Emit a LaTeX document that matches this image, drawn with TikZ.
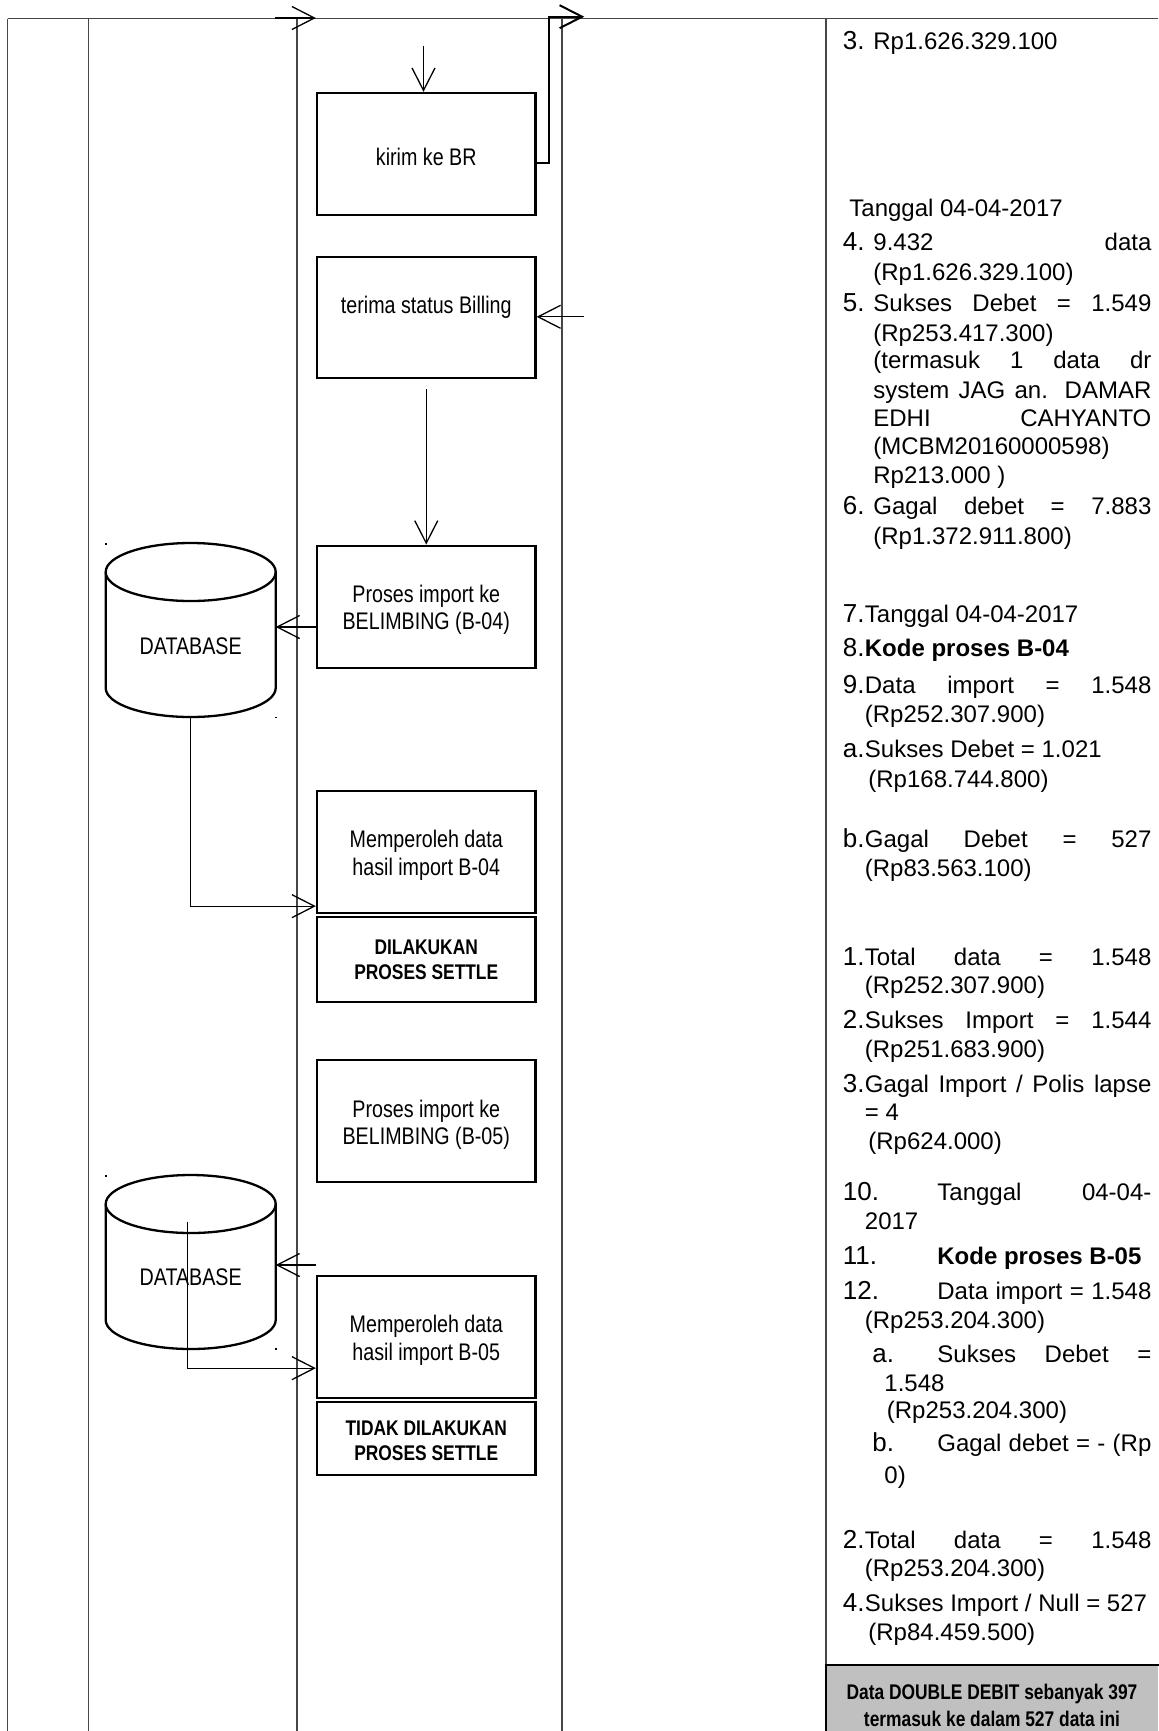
\documentclass[tikz,border=0pt]{standalone}
\usepackage{fontspec}
\setmainfont{Liberation Sans}
\newfontfamily\narrowfont[FakeStretch=0.82]{Liberation Sans}
\usetikzlibrary{arrows.meta}
\definecolor{graybox}{RGB}{192,192,192}
\definecolor{laneclr}{RGB}{70,70,70}
\newcommand{\jl}[2]{\makebox[#1][s]{#2}}
\begin{document}
\begin{tikzpicture}[x=0.5pt,y=-0.5pt,
  lane/.style={draw=laneclr, line width=0.65pt},
  box/.style={draw, line width=1.15pt, minimum width=109.25pt, minimum height=61pt, inner sep=2pt, align=center},
  sbox/.style={box, font=\narrowfont\bfseries\fontsize{10.6}{12.5}\selectfont},
  btxt/.style={inner sep=0pt, align=center, font=\narrowfont\fontsize{12}{13.75}\selectfont},
  arr/.style={line width=0.65pt, -{Straight Barb[length=11.25pt,width=11.5pt]}},
  rt/.style={anchor=base west, inner sep=0pt, font=\fontsize{12}{14}\selectfont},
  rb/.style={anchor=base west, inner sep=0pt, font=\bfseries\fontsize{12}{14}\selectfont},
  num/.style={anchor=base west, inner sep=0pt, font=\fontsize{13}{15}\selectfont},
  cyl/.style={line width=1.15pt},
  gtext/.style={inner sep=0pt, align=center, font=\narrowfont\bfseries\fontsize{10.6}{13.5}\selectfont},
  dotmark/.style={fill=black},
]
\fill[white] (0,0) rectangle (1158,1731);
\useasboundingbox (0,0) rectangle (1158,1731);

% lanes
\draw[lane] (7.7,18.5) -- (1158,18.5);
\draw[lane] (7.7,18.5) -- (7.7,1731);
\draw[lane] (88.3,18.5) -- (88.3,1731);
\draw[lane] (297,18.5) -- (297,1731);
\draw[lane] (562,18.5) -- (562,1731);
\draw[lane] (826,18.5) -- (826,1731);

% boxes
\node[box] (kirim) at (426.25,154) {};
\node[btxt, yshift=-1.5pt] (kirimT) at (kirim.center) {kirim ke BR};
\node[box, minimum height=60.65pt] (terima) at (426.25,317.65) {};
\node[btxt, yshift=5.1pt] (terimaT) at (terima.center) {terima status Billing};
\node[box] (pb04) at (426.25,606.7) {};
\node[btxt, yshift=-1.6pt] (pb04T) at (pb04.center) {Proses import ke\\BELIMBING (B-04)};
\node[box] (mb04) at (426.25,852) {};
\node[btxt, yshift=-1.6pt] (mb04T) at (mb04.center) {Memperoleh data\\hasil import B-04};
\node[sbox, minimum height=42.5pt] (set04) at (426.25,959.5) {DILAKUKAN\\PROSES SETTLE};
\node[box] (pb05) at (426.25,1121) {};
\node[btxt, yshift=-1.8pt] (pb05T) at (pb05.center) {Proses import ke\\BELIMBING (B-05)};
\node[box] (mb05) at (426.25,1337) {};
\node[btxt, yshift=-1.6pt] (mb05T) at (mb05.center) {Memperoleh data\\hasil import B-05};
\node[sbox, minimum height=36.5pt] (set05) at (426.25,1438.5) {};
\node[gtext, font=\narrowfont\bfseries\fontsize{10.6}{12.5}\selectfont, yshift=-1.2pt] (set05T) at (set05.center) {TIDAK DILAKUKAN\\PROSES SETTLE};

% cylinders
\draw[cyl] (105.7,572) -- (105.7,688) arc[start angle=180,end angle=360,x radius=42.5pt,y radius=14.5pt] -- (275.7,572);
\draw[cyl] (190.7,572) ellipse[x radius=42.5pt,y radius=14.5pt];
\node[btxt] (db1) at (190.7,646) {DATABASE};
\draw[cyl] (105.7,1204) -- (105.7,1320) arc[start angle=180,end angle=360,x radius=42.5pt,y radius=14.5pt] -- (275.7,1204);
\draw[cyl] (190.7,1204) ellipse[x radius=42.5pt,y radius=14.5pt];
\node[btxt] (db2) at (190.7,1277) {DATABASE};
\fill[dotmark] (105,543) rectangle (106.6,544.6);
\fill[dotmark] (275,716.5) rectangle (276.6,718.1);
\fill[dotmark] (105,1175) rectangle (106.6,1176.6);
\fill[dotmark] (275,1348) rectangle (276.6,1349.6);

% connectors
\coordinate (kin) at (423.5,46);
\draw[arr] (kin) -- (kin |- kirim.north);
\coordinate (a1s) at (275,18);
\draw[arr] (a1s) -- (a1s -| kirim.west);
\coordinate (a2e) at (584.3,16.7);
\draw[arr, line width=1pt] ([yshift=-4.35pt]kirim.east) -- ++(12.8,0) |- (a2e);
\coordinate (tin) at (584,316.8);
\draw[arr] (tin) -- (tin -| terima.east);
\draw[arr] ([yshift=-5pt]terima.south) -- (pb04.north);
\coordinate (db1e) at (275.7,627);
\draw[arr] (db1e -| pb04.west) -- (db1e);
\coordinate (db1b) at (190.7,717);
\draw[arr] (db1b) |- ([yshift=4pt]mb04.south west);
\coordinate (db2e) at (275.7,1265);
\draw[arr] (db2e -| pb05.west) -- (db2e);
\coordinate (db2s) at (187.7,1221.7);
\draw[arr] (db2s) |- ([yshift=15.5pt]mb05.south west);

% right column text
\node[num] (n3a) at (842.5,49.3) {3.};
\node[rt] (t01) at (873,49.3) {Rp1.626.329.100};
\node[rt] (t02) at (849,216) {Tanggal 04-04-2017};
\node[num] (n4a) at (842.5,250) {4.};
\node[rt] (t03) at (873,250) {\jl{139pt}{9.432 data}};
\node[rt] (t04) at (873,280) {(Rp1.626.329.100)};
\node[num] (n5a) at (842.5,311) {5.};
\node[rt] (t05) at (873,311) {\jl{139pt}{Sukses Debet = 1.549}};
\node[rt] (t06) at (873,341) {(Rp253.417.300)};
\node[rt] (t07) at (873,368) {\jl{139pt}{(termasuk 1 data dr}};
\node[rt] (t08) at (873,398) {\jl{139pt}{system JAG an. DAMAR}};
\node[rt] (t09) at (873,426) {\jl{139pt}{EDHI CAHYANTO}};
\node[rt] (t10) at (873,454.5) {(MCBM20160000598)};
\node[rt] (t11) at (873,483) {Rp213.000 )};
\node[num] (n6a) at (842.5,514) {6.};
\node[rt] (t12) at (873,514) {\jl{139pt}{Gagal debet = 7.883}};
\node[rt] (t13) at (873,544) {(Rp1.372.911.800)};
\node[num] (n7a) at (842.5,622) {7.};
\node[rt] (t14) at (864.5,622) {Tanggal 04-04-2017};
\node[num] (n8a) at (842.5,656.5) {8.};
\node[rb] (t15) at (864.5,656.5) {Kode proses B-04};
\node[num] (n9a) at (842.5,693) {9.};
\node[rt] (t16) at (864.5,693) {\jl{143.25pt}{Data import = 1.548}};
\node[rt] (t17) at (864.5,722) {(Rp252.307.900)};
\node[num] (naa) at (842.5,757) {a.};
\node[rt] (t18) at (864.5,757) {Sukses Debet = 1.021};
\node[rt] (t19) at (868,787) {(Rp168.744.800)};
\node[num] (nba) at (842.5,847.5) {b.};
\node[rt] (t20) at (864.5,847.5) {\jl{143.25pt}{Gagal Debet = 527}};
\node[rt] (t21) at (864.5,876) {(Rp83.563.100)};
\node[num] (n1b) at (842.5,965.5) {1.};
\node[rt] (t22) at (864.5,965.5) {\jl{143.25pt}{Total data = 1.548}};
\node[rt] (t23) at (864.5,993) {(Rp252.307.900)};
\node[num] (n2b) at (842.5,1028.5) {2.};
\node[rt] (t24) at (864.5,1028.5) {\jl{143.25pt}{Sukses Import = 1.544}};
\node[rt] (t25) at (864.5,1057) {(Rp251.683.900)};
\node[num] (n3b) at (842.5,1092.5) {3.};
\node[rt] (t26) at (864.5,1092.5) {\jl{143.25pt}{Gagal Import / Polis lapse}};
\node[rt] (t27) at (864.5,1120) {= 4};
\node[rt] (t28) at (868,1149) {(Rp624.000)};
\node[num] (n10) at (842.5,1200) {10.};
\node[rt] (t29) at (937,1200) {\jl{107pt}{Tanggal 04-04-}};
\node[rt] (t30) at (864.5,1229.5) {2017};
\node[num] (n11) at (842.5,1264) {11.};
\node[rb] (t31) at (937,1264) {Kode proses B-05};
\node[num] (n12) at (842.5,1299) {12.};
\node[rt] (t32) at (937,1299) {\jl{107pt}{Data import = 1.548}};
\node[rt] (t33) at (864.5,1328) {(Rp253.204.300)};
\node[num] (nac) at (872,1362) {a.};
\node[rt] (t34) at (937,1362) {\jl{107pt}{Sukses Debet =}};
\node[rt] (t35) at (884,1391) {1.548};
\node[rt] (t36) at (886.5,1418) {(Rp253.204.300)};
\node[num] (nbc) at (872,1451.5) {b.};
\node[rt] (t37) at (937,1451.5) {\jl{107pt}{Gagal debet = - (Rp}};
\node[rt] (t38) at (884,1483.5) {0)};
\node[num] (n2c) at (842.5,1548.5) {2.};
\node[rt] (t39) at (864.5,1548.5) {\jl{143.25pt}{Total data = 1.548}};
\node[rt] (t40) at (864.5,1576) {(Rp253.204.300)};
\node[num] (n4c) at (842.5,1611.5) {4.};
\node[rt] (t41) at (864.5,1611.5) {Sukses Import / Null = 527};
\node[rt] (t42) at (868,1640) {(Rp84.459.500)};

% gray box
\node[fill=graybox, minimum width=166pt, minimum height=33pt, anchor=north west, inner sep=0pt] (gray) at (826,1665) {};
\draw[line width=1.2pt] (gray.south west) -- (gray.north west) -- (gray.north east);
\node[gtext] (grayT) at (992,1705) {Data DOUBLE DEBIT sebanyak 397\\termasuk ke dalam 527 data ini};
\end{tikzpicture}
\end{document}
